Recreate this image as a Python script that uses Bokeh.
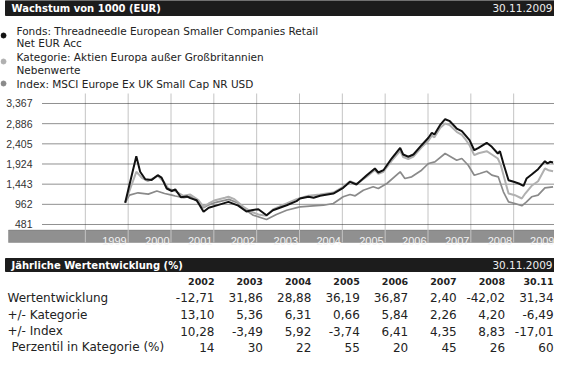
from bokeh.plotting import figure
from bokeh.models import (Range1d, FixedTicker, NumeralTickFormatter, BoxAnnotation,
                          CustomJSTickFormatter, LinearAxis)
from bokeh.core.properties import value
from bokeh.embed import file_html
from bokeh.resources import INLINE

# ---------------- data ----------------
fund_t = [1999.93, 2000.19, 2000.28, 2000.40, 2000.55, 2000.69, 2000.78, 2000.90, 2001.02, 2001.10,
          2001.23, 2001.37, 2001.45, 2001.60, 2001.76, 2001.88, 2002.11, 2002.34, 2002.57, 2002.76,
          2002.88, 2003.04, 2003.23, 2003.38, 2003.70, 2003.93, 2004.01, 2004.21, 2004.33, 2004.48,
          2004.79, 2005.02, 2005.18, 2005.33, 2005.57, 2005.76, 2005.84, 2005.96, 2006.15, 2006.35,
          2006.42, 2006.54, 2006.66, 2006.85, 2007.01, 2007.09, 2007.15, 2007.28, 2007.40, 2007.51,
          2007.67, 2007.79, 2007.87, 2007.97, 2008.08, 2008.18, 2008.37, 2008.49, 2008.63, 2008.68,
          2008.76, 2008.88, 2009.00, 2009.12, 2009.23, 2009.30, 2009.42, 2009.57, 2009.73, 2009.79,
          2009.85, 2009.92]
fund_v = [1000, 2110, 1740, 1560, 1545, 1657, 1600, 1340, 1280, 1320,
          1130, 1150, 1110, 1061, 784, 880, 950, 1020, 930, 790,
          822, 846, 703, 822, 941, 1037, 1101, 1142, 1118, 1165,
          1220, 1356, 1499, 1435, 1657, 1817, 1721, 1776, 2055, 2310,
          2150, 2096, 2150, 2372, 2549, 2668, 2627, 2849, 2992, 2945,
          2770, 2706, 2611, 2492, 2253, 2310, 2430, 2334, 2174, 2229,
          1936, 1538, 1499, 1459, 1404, 1578, 1673, 1800, 1991, 1936,
          1976, 1960]

cat_t = [1999.93, 2000.19, 2000.32, 2000.46, 2000.69, 2000.82, 2000.94, 2001.10, 2001.29, 2001.45,
         2001.64, 2001.76, 2001.88, 2002.03, 2002.26, 2002.34, 2002.48, 2002.69, 2002.88, 2003.04,
         2003.23, 2003.38, 2003.70, 2003.93, 2004.21, 2004.48, 2004.79, 2005.02, 2005.18, 2005.33,
         2005.57, 2005.76, 2005.84, 2005.96, 2006.15, 2006.35, 2006.42, 2006.54, 2006.66, 2006.85,
         2007.01, 2007.09, 2007.15, 2007.28, 2007.40, 2007.51, 2007.67, 2007.79, 2007.87, 2007.97,
         2008.08, 2008.18, 2008.37, 2008.49, 2008.63, 2008.70, 2008.88, 2009.03, 2009.19, 2009.27,
         2009.42, 2009.57, 2009.73, 2009.81, 2009.92]
cat_v = [1000, 1738, 1595, 1514, 1642, 1514, 1340, 1275, 1165, 1196,
         1061, 903, 982, 1061, 1118, 1142, 1085, 903, 784, 719,
         690, 840, 982, 1085, 1165, 1196, 1244, 1380, 1514, 1450,
         1620, 1780, 1690, 1740, 2000, 2240, 2090, 2040, 2100, 2320,
         2480, 2600, 2560, 2780, 2890, 2850, 2692, 2620, 2520, 2372,
         2134, 2180, 2229, 2150, 2055, 1895, 1220, 1180, 1101, 1220,
         1404, 1514, 1817, 1776, 1752]

idx_t = [1999.93, 2000.03, 2000.23, 2000.47, 2000.67, 2000.85, 2001.02, 2001.10, 2001.30, 2001.45,
         2001.60, 2001.76, 2001.88, 2002.05, 2002.35, 2002.55, 2002.70, 2002.92, 2003.23, 2003.46,
         2003.70, 2004.01, 2004.32, 2004.56, 2004.79, 2005.02, 2005.18, 2005.30, 2005.49, 2005.72,
         2005.84, 2006.04, 2006.35, 2006.46, 2006.62, 2006.85, 2007.01, 2007.16, 2007.40, 2007.67,
         2007.79, 2007.94, 2008.08, 2008.21, 2008.37, 2008.49, 2008.64, 2008.76, 2008.88, 2009.03,
         2009.19, 2009.30, 2009.42, 2009.57, 2009.73, 2009.92]
idx_v = [1000, 1180, 1237, 1205, 1280, 1220, 1180, 1160, 1120, 1150,
         1040, 880, 950, 1010, 1080, 1000, 860, 703, 600, 719,
         822, 903, 927, 941, 982, 1142, 1196, 1165, 1299, 1380,
         1340, 1459, 1738, 1578, 1618, 1776, 1936, 1976, 2174, 2015,
         2055, 1895, 1657, 1697, 1752, 1657, 1618, 1261, 1022, 982,
         927, 1022, 1142, 1180, 1356, 1380]

y_ticks = [481, 962, 1443, 1924, 2405, 2886, 3367]
years = list(range(1999, 2010))

legend_lines = ["Fonds:  Threadneedle European Smaller Companies Retail",
                "Net EUR Acc",
                "Kategorie:  Aktien Europa außer Großbritannien",
                "Nebenwerte",
                "Index:  MSCI Europe Ex UK Small Cap NR USD"]
series_colors = ["#111111", "#b0b0b0", "#8a8a8a"]

table_cols = ["2002", "2003", "2004", "2005", "2006", "2007", "2008", "30.11"]
row_labels = ["Wertentwicklung", "+/- Kategorie", "+/- Index", "Perzentil in Kategorie (%)"]
wertentwicklung = [-12.71, 31.86, 28.88, 36.19, 36.87, 2.40, -42.02, 31.34]
plus_kategorie = [13.10, 5.36, 6.31, 0.66, 5.84, 2.26, 4.20, -6.49]
plus_index = [10.28, -3.49, 5.92, -3.74, 6.41, 4.35, 8.83, -17.01]
perzentil = [14, 30, 22, 55, 20, 45, 26, 60]

date_text = "30.11.2009"

# ---------------- page geometry (pixels) ----------------
W, H = 554, 355
PX_PER_YEAR = 514 / 12.0
PX_PER_VAL = 2886 / 121.0
CH_LEFT, CH_TOP = 42, 93          # chart area origin inside the canvas
T0 = 1998 - CH_LEFT / PX_PER_YEAR
T1 = T0 + W / PX_PER_YEAR
V_TOP = 3605.5 + CH_TOP * PX_PER_VAL
V_BOT = V_TOP - H * PX_PER_VAL
BAND_TOP, BAND_BOT = 349.8, 51.7
VERD = value("DejaVu Sans")

p = figure(width=W, height=H, x_range=Range1d(0, W), y_range=Range1d(H, 0),
           x_axis_type=None, y_axis_type=None, output_backend="svg",
           toolbar_location=None, min_border=0, min_border_left=0, min_border_right=0,
           min_border_top=0, min_border_bottom=0)
p.outline_line_color = None
p.grid.visible = False
p.extra_x_ranges = {"t": Range1d(T0, T1)}
p.extra_y_ranges = {"v": Range1d(V_BOT, V_TOP)}

# header + legend
p.quad(left=[5], right=[W], top=[0], bottom=[15], color="#1c1c1c")
p.text(x=[11], y=[7.5], text=["Wachstum von 1000 (EUR)"], text_font=VERD, text_font_style="bold",
       text_font_size="10px", text_color="white", text_baseline="middle")
p.text(x=[552], y=[7.5], text=[date_text], text_font=VERD, text_font_size="10.5px",
       text_color="#eeeeee", text_baseline="middle", text_align="right")
p.text(x=[16] * 5, y=[30, 42, 56, 69, 83], text=legend_lines, text_font=VERD,
       text_font_size="10.5px", text_color="#222222", text_baseline="middle")
p.scatter(x=[3, 3, 3], y=[35, 61, 83], size=5, color=series_colors)

# chart band + grid
band = BoxAnnotation(left=1998 - 34 / PX_PER_YEAR, right=T1, top=BAND_TOP, bottom=BAND_BOT,
                     x_range_name="t", y_range_name="v", fill_color="#909090", fill_alpha=1.0,
                     line_color="#5a5a5a", line_width=1, level="underlay")
p.add_layout(band)
p.segment(x0=years, x1=years, y0=[BAND_BOT] * len(years), y1=[3605.5] * len(years),
          x_range_name="t", y_range_name="v", color="#c4c4c4", line_width=1)
p.segment(x0=[1998] * len(y_ticks), x1=[T1] * len(y_ticks), y0=y_ticks, y1=y_ticks,
          x_range_name="t", y_range_name="v", color="#222222", line_width=1, line_dash="1 1")

yax = LinearAxis(x_range_name="t", y_range_name="v", fixed_location=1998,
                 ticker=FixedTicker(ticks=y_ticks), formatter=NumeralTickFormatter(format="0,0"))
yax.major_label_text_font = "Liberation Sans"
yax.major_label_text_font_size = "10.5px"
yax.major_label_text_color = "#333333"
yax.major_label_standoff = 4
yax.axis_line_color = None
yax.major_tick_line_color = None
yax.minor_tick_line_color = None
p.add_layout(yax, "left")

xax = LinearAxis(x_range_name="t", y_range_name="v", fixed_location=BAND_TOP,
                 ticker=FixedTicker(ticks=[y + 0.68 for y in years]),
                 formatter=CustomJSTickFormatter(code="return Math.floor(tick).toFixed(0)"))
xax.major_label_text_font = "Liberation Sans"
xax.major_label_text_font_size = "11px"
xax.major_label_text_color = "#f2f2f2"
xax.major_label_standoff = 1
xax.axis_line_color = None
xax.major_tick_line_color = None
xax.minor_tick_line_color = None
p.add_layout(xax, "below")

p.line(idx_t, idx_v, color=series_colors[2], line_width=1.7, x_range_name="t", y_range_name="v")
p.line(cat_t, cat_v, color=series_colors[1], line_width=2, x_range_name="t", y_range_name="v")
p.line(fund_t, fund_v, color=series_colors[0], line_width=2, x_range_name="t", y_range_name="v")

# table
p.quad(left=[5], right=[W], top=[258], bottom=[271], color="#1c1c1c")
p.text(x=[11], y=[264.5], text=["Jährliche Wertentwicklung (%)"], text_font=VERD,
       text_font_style="bold", text_font_size="10px", text_color="white", text_baseline="middle")
p.text(x=[552], y=[264.5], text=[date_text], text_font=VERD, text_font_size="10.5px",
       text_color="#eeeeee", text_baseline="middle", text_align="right")

col_x = [214 + 48.43 * i for i in range(len(table_cols))]
p.text(x=col_x, y=[280.5] * len(col_x), text=table_cols, text_font=VERD, text_font_style="bold",
       text_font_size="9.5px", text_color="#222222", text_baseline="middle", text_align="right")

def fmt(v):
    return f"{v:.2f}".replace(".", ",")

row_y = [297, 314, 330.5, 346.5]
rows = [[fmt(v) for v in wertentwicklung], [fmt(v) for v in plus_kategorie],
        [fmt(v) for v in plus_index], [str(v) for v in perzentil]]
for ry, vals in zip(row_y, rows):
    p.text(x=col_x, y=[ry] * len(col_x), text=vals, text_font=VERD, text_font_size="12px",
           text_color="#222222", text_baseline="middle", text_align="right")
p.text(x=[7, 7, 7, 11], y=row_y, text=row_labels, text_font=VERD, text_font_size="12px",
       text_color="#222222", text_baseline="middle")

open("out.html", "w").write(file_html(p, INLINE))
